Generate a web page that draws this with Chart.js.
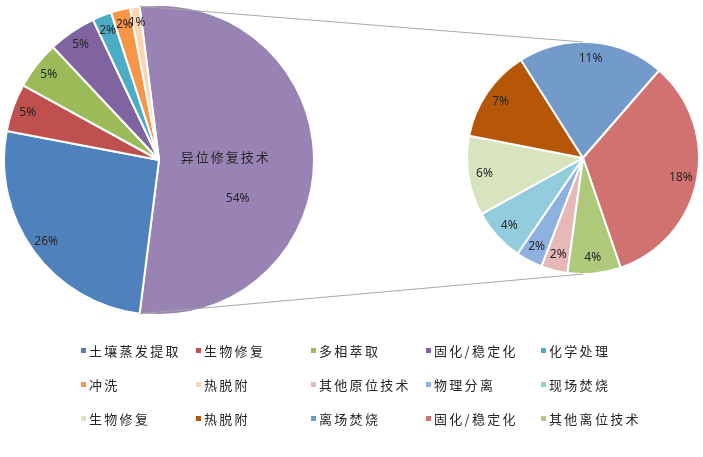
<!DOCTYPE html>
<html>
<head>
<meta charset="utf-8">
<script src="https://cdn.jsdelivr.net/npm/chart.js@4/dist/chart.umd.min.js"></script>
<style>
  body { margin: 0; background: #fff; }
  #wrap { position: relative; width: 703px; height: 457px; overflow: hidden; }
  #leftBox { position: absolute; left: 3px; top: 4px; width: 312px; height: 312px; }
  #rightBox { position: absolute; left: 466px; top: 41px; width: 234px; height: 234px; }
  #lines { position: absolute; left: 0; top: 0; pointer-events: none; }
  #legend { position: absolute; left: 81px; top: 333px; display: grid;
    grid-template-columns: repeat(5, 115px); grid-auto-rows: 34px; }
  .item { display: flex; align-items: center; font-family: "Noto Sans CJK SC", sans-serif;
    font-size: 13px; letter-spacing: 2.3px; color: #262626; white-space: nowrap; }
  .sw { width: 5px; height: 5px; margin-right: 3px; flex: none; }
</style>
</head>
<body>
<div id="wrap">
  <div id="leftBox"><canvas id="leftPie"></canvas></div>
  <div id="rightBox"><canvas id="rightPie"></canvas></div>
  <canvas id="lines" width="703" height="457"></canvas>
  <div id="legend"></div>
</div>
<script>
// 主饼图（原位技术 + 异位合计）
var leftLabels = ['异位修复技术', '土壤蒸发提取', '生物修复', '多相萃取', '固化/稳定化', '化学处理', '冲洗', '热脱附'];
var leftValues = [54, 26, 5, 5, 5, 2, 2, 1];
var leftColors = ['#9983B5', '#4F81BD', '#C0504D', '#9BBB59', '#8064A2', '#4BACC6', '#F79646', '#FBD4B4'];

// 子饼图（异位修复技术 拆分）
var rightLabels = ['其他原位技术', '物理分离', '现场焚烧', '生物修复', '热脱附', '离场焚烧', '固化/稳定化', '其他离位技术'];
var rightValues = [2, 2, 4, 6, 7, 11, 18, 4];
var rightColors = ['#E6B9B8', '#8FB1E0', '#93CDDD', '#D7E4BD', '#B65708', '#729ACB', '#D07270', '#AFC97A'];

var pctFont = '12px "Noto Sans", sans-serif';

function sum(arr) {
  return arr.reduce(function(a, b) { return a + b; }, 0);
}

// 百分比标签
function labelPlugin(values, factor, total) {
  return {
    id: 'pctLabels',
    afterDatasetsDraw: function(chart) {
      var ctx = chart.ctx;
      var arcs = chart.getDatasetMeta(0).data;
      ctx.save();
      ctx.fillStyle = '#262626';
      ctx.font = pctFont;
      ctx.textAlign = 'center';
      ctx.textBaseline = 'middle';
      arcs.forEach(function(arc, i) {
        var p = arc.getProps(['x', 'y', 'startAngle', 'endAngle', 'outerRadius'], true);
        var mid = (p.startAngle + p.endAngle) / 2;
        var txt = Math.round(values[i] / total * 100) + '%';
        if (chart.canvas.id === 'leftPie' && i === 0) {
          // 异位修复技术：名称 + 百分比
          var nx = p.x + Math.cos(mid) * p.outerRadius * 0.43;
          var ny = p.y + Math.sin(mid) * p.outerRadius * 0.43 - 3;
          ctx.save();
          ctx.font = '13px "Noto Sans CJK SC", sans-serif';
          ctx.letterSpacing = '2px';
          ctx.fillText(leftLabels[0], nx, ny);
          ctx.restore();
          ctx.fillText(txt, nx + 12, ny + 42);
          return;
        }
        var r = p.outerRadius * factor;
        ctx.fillText(txt, p.x + Math.cos(mid) * r, p.y + Math.sin(mid) * r);
      });
      ctx.restore();
    }
  };
}

var leftTotal = sum(leftValues);

function pieOptions(rotation) {
  return {
    responsive: true,
    maintainAspectRatio: false,
    animation: false,
    rotation: rotation,
    plugins: { legend: { display: false }, tooltip: { enabled: false } }
  };
}

var leftChart = new Chart(document.getElementById('leftPie'), {
  type: 'pie',
  data: {
    labels: leftLabels,
    datasets: [{ data: leftValues, backgroundColor: leftColors, borderColor: '#fff', borderWidth: 2 }]
  },
  options: pieOptions(90 - leftValues[0] / leftTotal * 180),
  plugins: [labelPlugin(leftValues, 0.9, leftTotal)]
});

var rightChart = new Chart(document.getElementById('rightPie'), {
  type: 'pie',
  data: {
    labels: rightLabels,
    datasets: [{ data: rightValues, backgroundColor: rightColors, borderColor: '#fff', borderWidth: 2 }]
  },
  options: pieOptions(187.7),
  plugins: [labelPlugin(rightValues, 0.86, leftTotal)]
});

// 连接线
function drawLines() {
  var c = document.getElementById('lines').getContext('2d');
  var lb = document.getElementById('leftBox');
  var rb = document.getElementById('rightBox');
  var a = leftChart.getDatasetMeta(0).data[0].getProps(['x', 'y', 'startAngle', 'endAngle', 'outerRadius'], true);
  var b = rightChart.getDatasetMeta(0).data[0].getProps(['x', 'y', 'outerRadius'], true);
  var ax = lb.offsetLeft + a.x, ay = lb.offsetTop + a.y;
  var bx = rb.offsetLeft + b.x, by = rb.offsetTop + b.y;
  c.strokeStyle = '#a6a6a6';
  c.lineWidth = 1;
  c.beginPath();
  c.moveTo(ax + Math.cos(a.startAngle) * a.outerRadius, ay + Math.sin(a.startAngle) * a.outerRadius);
  c.lineTo(bx, by - b.outerRadius);
  c.moveTo(ax + Math.cos(a.endAngle) * a.outerRadius, ay + Math.sin(a.endAngle) * a.outerRadius);
  c.lineTo(bx, by + b.outerRadius);
  c.stroke();
}
drawLines();

// 图例
var legendNames = leftLabels.slice(1).concat(rightLabels);
var legendColors = leftColors.slice(1).concat(rightColors);
var legend = document.getElementById('legend');
legendNames.forEach(function(name, i) {
  var item = document.createElement('div');
  item.className = 'item';
  var sw = document.createElement('span');
  sw.className = 'sw';
  sw.style.background = legendColors[i];
  item.appendChild(sw);
  item.appendChild(document.createTextNode(name));
  legend.appendChild(item);
});
</script>
</body>
</html>
